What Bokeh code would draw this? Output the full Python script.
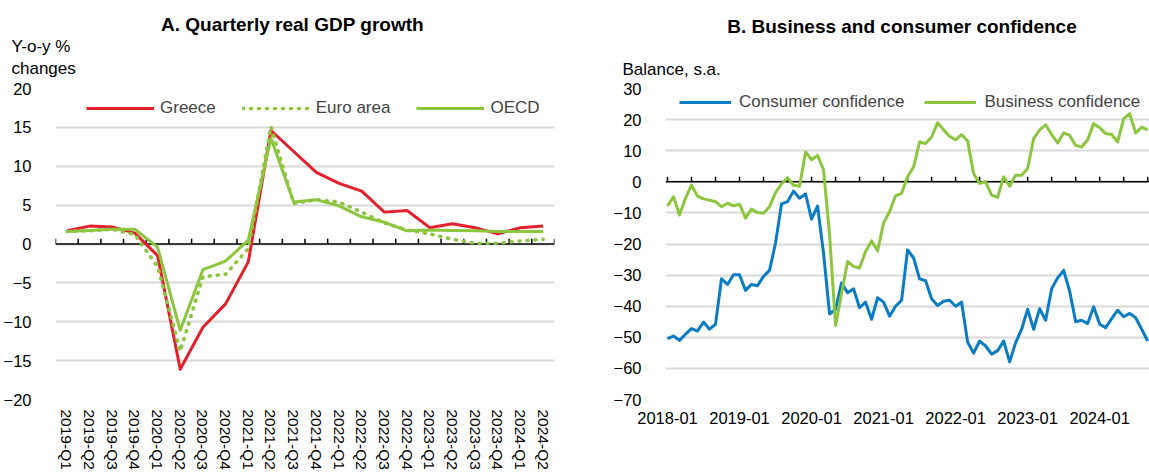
from bokeh.plotting import figure
from bokeh.layouts import row, column
from bokeh.models import FixedTicker, Span, Legend, LegendItem, Label, Range1d
from bokeh.embed import file_html
from bokeh.resources import INLINE

# ---------------- data ----------------
quarters = ["2019-Q1", "2019-Q2", "2019-Q3", "2019-Q4",
            "2020-Q1", "2020-Q2", "2020-Q3", "2020-Q4",
            "2021-Q1", "2021-Q2", "2021-Q3", "2021-Q4",
            "2022-Q1", "2022-Q2", "2022-Q3", "2022-Q4",
            "2023-Q1", "2023-Q2", "2023-Q3", "2023-Q4",
            "2024-Q1", "2024-Q2"]
greece = [1.7, 2.3, 2.2, 1.4, -1.5, -16.1, -10.7, -7.7, -2.3, 14.6, 11.9, 9.2,
          7.8, 6.8, 4.1, 4.3, 2.1, 2.6, 2.1, 1.3, 2.1, 2.3]
euro_area = [1.6, 1.7, 1.9, 1.2, -2.9, -13.8, -4.2, -3.9, -0.6, 15.1, 5.2, 5.7,
             5.4, 4.1, 2.7, 1.8, 1.3, 0.6, 0.1, 0.1, 0.4, 0.6]
oecd = [1.6, 1.75, 1.9, 1.9, -0.4, -11.1, -3.3, -2.2, 0.5, 13.6, 5.4, 5.7,
        4.9, 3.5, 2.8, 1.7, 1.8, 1.75, 1.7, 1.6, 1.6, 1.6]

months = [f"{y}-{m:02d}" for y in range(2018, 2025) for m in range(1, 13)][:81]
consumer = [-50.4, -49.6, -51.0, -49.0, -47.2, -48.0, -45.1, -47.4, -45.8, -31.2,
            -33.0, -29.9, -29.9, -34.9, -33.0, -33.4, -30.4, -28.5, -19.7, -7.1,
            -6.4, -3.0, -5.3, -3.9, -12.0, -7.8, -23.0, -42.5, -41.0, -32.5,
            -35.7, -34.4, -40.5, -38.7, -44.2, -37.3, -38.7, -43.2, -40.0, -38.1,
            -21.9, -24.5, -31.2, -31.8, -37.6, -39.8, -38.4, -38.1, -40.0, -38.7,
            -51.5, -55.1, -51.2, -52.8, -55.4, -54.3, -51.2, -57.9, -51.7, -47.4,
            -41.0, -47.4, -40.8, -44.5, -34.4, -30.9, -28.5, -35.2, -45.0, -44.5,
            -45.6, -40.2, -45.8, -46.9, -44.0, -41.3, -43.4, -42.3, -43.7, -47.4, -51.2]
business = [-7.8, -4.8, -10.7, -5.3, -1.1, -4.6, -5.5, -5.9, -6.4, -8.0,
            -6.9, -7.7, -7.2, -11.7, -8.8, -9.9, -10.1, -8.0, -3.5, -0.7,
            1.3, -1.1, -1.4, 9.6, 7.1, 8.5, 3.9, -17.0, -46.2, -36.0,
            -25.6, -27.2, -27.7, -22.4, -19.0, -22.2, -13.3, -9.6, -4.5, -3.7,
            1.6, 4.8, 12.8, 12.3, 14.4, 19.0, 16.7, 14.6, 13.5, 15.2,
            13.1, 2.7, -0.5, 0.0, -4.3, -5.0, 1.6, -1.4, 2.1, 2.1,
            4.3, 13.9, 16.7, 18.3, 15.2, 12.5, 15.7, 14.9, 11.7, 11.2,
            13.5, 18.7, 17.4, 15.5, 15.2, 12.8, 20.3, 21.9, 15.7, 17.6, 16.7]

left_yticks = list(range(-20, 21, 5))
right_yticks = list(range(-70, 31, 10))

title_a = "A. Quarterly real GDP growth"
title_b = "B. Business and consumer confidence"
unit_a = ["Y-o-y %", "changes"]
unit_b = "Balance, s.a."

# ---------------- style ----------------
FONT = "Liberation Sans"
RED = "#E3202B"
GREEN = "#8CC63F"
BLUE = "#0A7DC2"
GRID = "#D9D9D9"
TICK_FS = "16.5px"
LEG_FS = "17px"
W_TOTAL = 1149
H_HEAD = 79
TOP_GAP = 9           # frame top at H_HEAD + TOP_GAP = 88
H_MAIN = 472 - H_HEAD
W_LEFT = 610


def base_fig(width, xr, yr, yticks, mbl, mbr):
    p = figure(width=width, height=H_MAIN, output_backend="svg", toolbar_location=None,
               x_range=xr, y_range=yr,
               min_border_left=mbl, min_border_right=mbr,
               min_border_top=TOP_GAP, min_border_bottom=73)
    p.outline_line_color = None
    p.background_fill_color = "white"
    p.border_fill_color = "white"
    p.xgrid.visible = False
    p.ygrid.ticker = FixedTicker(ticks=yticks)
    p.ygrid.grid_line_color = GRID
    p.ygrid.grid_line_width = 2
    p.yaxis.ticker = FixedTicker(ticks=yticks)
    p.yaxis.axis_line_color = None
    p.yaxis.major_tick_line_color = None
    p.yaxis.minor_tick_line_color = None
    p.yaxis.major_label_standoff = 18
    p.yaxis.major_label_text_font = FONT
    p.yaxis.major_label_text_font_size = TICK_FS
    p.yaxis.major_label_text_color = "black"
    p.xaxis.axis_line_color = None
    p.xaxis.major_tick_line_color = None
    p.xaxis.minor_tick_line_color = None
    p.xaxis.major_label_text_font = FONT
    p.xaxis.major_label_text_font_size = TICK_FS
    p.xaxis.major_label_text_color = "black"
    p.add_layout(Span(location=0, dimension="width", line_color="black",
                      line_width=1.5, level="underlay"))
    return p


# ---------------- header (titles and units) ----------------
head = figure(width=W_TOTAL, height=H_HEAD, output_backend="svg", toolbar_location=None,
              x_range=Range1d(0, W_TOTAL), y_range=Range1d(0, H_HEAD),
              min_border=0, min_border_left=0, min_border_right=0,
              min_border_top=0, min_border_bottom=0)
head.axis.visible = False
head.grid.visible = False
head.outline_line_color = None
head.background_fill_color = "white"
head.border_fill_color = "white"


def head_text(x, y, text, size, bold=False, align="left"):
    head.add_layout(Label(x=x, y=y, text=text, text_font=FONT, text_font_size=size,
                          text_font_style="bold" if bold else "normal",
                          text_align=align, text_baseline="alphabetic",
                          text_color="black"))


head_text(292, 55.3, title_a, "19px", bold=True, align="center")
head_text(11, 33.5, unit_a[0], LEG_FS)
head_text(11, 10.8, unit_a[1], LEG_FS)
head_text(901.5, 53.3, title_b, "19px", bold=True, align="center")
head_text(622, 10.2, unit_b, LEG_FS)

# ---------------- Panel A ----------------
n_q = len(quarters)
p1 = base_fig(W_LEFT, Range1d(-0.5, n_q - 0.5), Range1d(-20, 20), left_yticks, 51, 56)
p1.xaxis.ticker = FixedTicker(ticks=list(range(n_q)))
p1.xaxis.major_label_overrides = {i: q for i, q in enumerate(quarters)}
p1.xaxis.major_label_orientation = "vertical"
p1.xaxis.major_label_standoff = 4
p1.xaxis.major_label_text_font_size = "15.5px"

q_bounds = [i - 0.5 for i in range(n_q + 1)]
p1.segment(x0=q_bounds, y0=[0] * len(q_bounds), x1=q_bounds, y1=[0.68] * len(q_bounds),
           line_color="black", line_width=1.5)

xq = list(range(n_q))
r_gr = p1.line(xq, greece, line_color=RED, line_width=3, line_join="round")
r_ea = p1.line(xq, euro_area, line_color=GREEN, line_width=3.6, line_dash="1 7",
               line_cap="round", line_join="round")
r_oe = p1.line(xq, oecd, line_color=GREEN, line_width=3, line_join="round")

leg1 = Legend(items=[LegendItem(label="Greece", renderers=[r_gr]),
                     LegendItem(label="Euro area", renderers=[r_ea]),
                     LegendItem(label="OECD", renderers=[r_oe])],
              orientation="horizontal", location=(31, 281),
              glyph_width=68, glyph_height=20, label_height=20,
              label_standoff=6, spacing=26, padding=0, margin=0,
              label_text_font=FONT, label_text_font_size=LEG_FS,
              background_fill_alpha=0, border_line_alpha=0)
p1.add_layout(leg1)

# ---------------- Panel B ----------------
n_m = len(months)
p2 = base_fig(W_TOTAL - W_LEFT, Range1d(-0.33, 80.3), Range1d(-70, 30), right_yticks, 51, 0)
label_idx = list(range(0, n_m, 12))
p2.xaxis.ticker = FixedTicker(ticks=label_idx)
p2.xaxis.major_label_overrides = {i: months[i] for i in label_idx}
p2.xaxis.major_label_standoff = 6

m_ticks = list(range(0, n_m, 4))
p2.segment(x0=m_ticks, y0=[0] * len(m_ticks), x1=m_ticks, y1=[1.6] * len(m_ticks),
           line_color="black", line_width=1.5)

xm = list(range(n_m))
r_c = p2.line(xm, consumer, line_color=BLUE, line_width=3, line_join="round")
r_b = p2.line(xm, business, line_color=GREEN, line_width=3, line_join="round")

leg2 = Legend(items=[LegendItem(label="Consumer confidence", renderers=[r_c]),
                     LegendItem(label="Business confidence", renderers=[r_b])],
              orientation="horizontal", location=(14, 287),
              glyph_width=52, glyph_height=20, label_height=20,
              label_standoff=8, spacing=20, padding=0, margin=0,
              label_text_font=FONT, label_text_font_size=LEG_FS,
              background_fill_alpha=0, border_line_alpha=0)
p2.add_layout(leg2)

layout = column(head, row(p1, p2))
open("out.html", "w").write(file_html(layout, INLINE))
